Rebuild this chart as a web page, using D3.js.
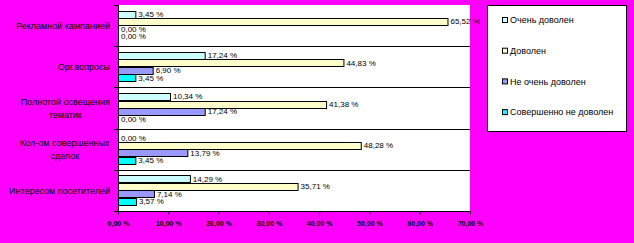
<!DOCTYPE html>
<html>
<head>
<meta charset="utf-8">
<script src="https://cdn.jsdelivr.net/npm/d3@7"></script>
<style>
  html, body { margin: 0; padding: 0; background: #ff00ff; }
  svg { display: block; font-family: "Liberation Sans", Arial, sans-serif; }
</style>
</head>
<body>
<div id="chart"></div>
<script>
// categories, top to bottom (each label split into lines)
const categories = [
    ["Рекламной кампанией"],
    ["Орг.вопросы"],
    ["Полнотой освещения", "тематик"],
    ["Кол-ом совершенных", "сделок"],
    ["Интересом посетителей"]
];
const seriesNames = ["Очень доволен", "Доволен", "Не очень доволен", "Совершенно не доволен"];
const seriesColors = ["#ccffff", "#ffffcc", "#9999ff", "#00ffff"];

// values in %, one array per series, same order as categories
const veryHappy = [3.45, 17.24, 10.34, 0.00, 14.29];
const happy = [65.52, 44.83, 41.38, 48.28, 35.71];
const notVeryHappy = [0.00, 6.90, 17.24, 13.79, 7.14];
const notHappy = [0.00, 3.45, 0.00, 3.45, 3.57];
const seriesValues = [veryHappy, happy, notVeryHappy, notHappy];

const xTicks = [0, 10, 20, 30, 40, 50, 60, 70];

const width = 634, height = 243;
const plot = { left: 118, right: 470, top: 5, bottom: 211 };

const fmt = v => v.toFixed(2).replace(".", ",") + " %";

const svg = d3.select("#chart").append("svg")
    .attr("width", width)
    .attr("height", height);

svg.append("rect")
    .attr("x", plot.left).attr("y", plot.top)
    .attr("width", plot.right - plot.left)
    .attr("height", plot.bottom - plot.top)
    .attr("fill", "#fff");

const x = d3.scaleLinear().domain([0, 70]).range([plot.left, plot.right]);
const y = d3.scaleBand().domain(d3.range(categories.length))
    .range([plot.top, plot.bottom]).padding(0);
const ySub = d3.scaleBand().domain(d3.range(seriesNames.length))
    .range([0, y.bandwidth()]).paddingInner(0).paddingOuter(0.75);

// group separators
svg.selectAll(".sep")
    .data(d3.range(1, categories.length))
    .enter().append("line")
    .attr("x1", plot.left).attr("x2", plot.right)
    .attr("y1", d => Math.round(y(d)) + 0.5)
    .attr("y2", d => Math.round(y(d)) + 0.5)
    .attr("stroke", "#000");

// bars
const rows = [];
seriesValues.forEach((vals, s) => vals.forEach((v, c) => rows.push({ s, c, v })));

svg.selectAll(".bar")
    .data(rows.filter(d => d.v > 0))
    .enter().append("rect")
    .attr("x", x(0) + 0.5)
    .attr("y", d => Math.round(y(d.c) + ySub(d.s)) + 0.5)
    .attr("width", d => x(d.v) - x(0))
    .attr("height", Math.round(ySub.bandwidth()))
    .attr("fill", d => seriesColors[d.s])
    .attr("stroke", "#000");

svg.selectAll(".val")
    .data(rows)
    .enter().append("text")
    .attr("x", d => x(d.v) + 3)
    .attr("y", d => y(d.c) + ySub(d.s) + ySub.bandwidth() / 2)
    .attr("dy", "0.32em")
    .attr("font-size", "8px")
    .attr("fill", "#000")
    .text(d => fmt(d.v));

// y axis (ticks at group boundaries)
const yAxis = svg.append("g");
yAxis.append("line")
    .attr("x1", plot.left + 0.5).attr("x2", plot.left + 0.5)
    .attr("y1", plot.top).attr("y2", plot.bottom)
    .attr("stroke", "#000");
yAxis.selectAll(".yt")
    .data(d3.range(categories.length + 1))
    .enter().append("line")
    .attr("x1", plot.left - 4).attr("x2", plot.left)
    .attr("y1", d => Math.round(plot.top + d * y.step()) + 0.5)
    .attr("y2", d => Math.round(plot.top + d * y.step()) + 0.5)
    .attr("stroke", "#000");

const catText = svg.selectAll(".cat")
    .data(categories)
    .enter().append("text")
    .attr("text-anchor", "middle")
    .attr("font-size", "9px")
    .attr("fill", "#000")
    .attr("transform", (d, i) => {
        const cy = y(i) + y.bandwidth() / 2 - (d.length - 1) * 6.5;
        return `translate(0,${cy})`;
    });
catText.each(function(d) {
    const t = d3.select(this);
    d.forEach((line, k) => {
        t.append("tspan")
            .attr("x", 60)
            .attr("y", k * 13)
            .attr("dy", "0.35em")
            .text(line);
    });
});
// right-align the block of each label, keep lines centered to each other
catText.each(function() {
    const b = this.getBBox();
    const shift = 110 - (b.x + b.width);
    d3.select(this).selectAll("tspan").attr("x", 60 + shift);
});

// x axis
const xAxis = svg.append("g")
    .attr("transform", `translate(0,${plot.bottom + 0.5})`)
    .call(d3.axisBottom(x).tickValues(xTicks).tickSize(3).tickFormat(fmt));
xAxis.select(".domain").attr("d", `M${plot.left},0H${plot.right}`);
xAxis.selectAll("text")
    .attr("y", 10)
    .attr("font-size", "7px")
    .attr("font-weight", "bold")
    .attr("font-family", "Liberation Sans, Arial, sans-serif");

// legend
const lg = svg.append("g");
lg.append("rect")
    .attr("x", 487.5).attr("y", 5.5)
    .attr("width", 139).attr("height", 126)
    .attr("fill", "#fff").attr("stroke", "#000");
const items = lg.selectAll(".li")
    .data(seriesNames)
    .enter().append("g")
    .attr("transform", (d, i) => `translate(502,${20 + i * 30.7})`);
items.append("rect")
    .attr("x", 0.5).attr("y", -2.5)
    .attr("width", 5).attr("height", 5)
    .attr("fill", (d, i) => seriesColors[i])
    .attr("stroke", "#000");
items.append("text")
    .attr("x", 8).attr("y", 0).attr("dy", "0.35em")
    .attr("font-size", "9px")
    .attr("fill", "#000")
    .text(d => d);
</script>
</body>
</html>
